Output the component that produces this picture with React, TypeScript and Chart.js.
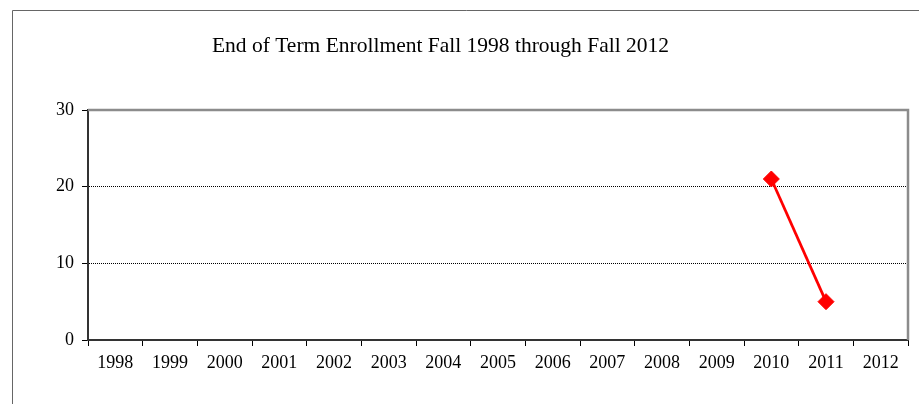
import React, { useEffect, useRef } from "react";
import { Chart, registerables } from "chart.js";

Chart.register(...registerables);

const categories: string[] = [
  "1998", "1999", "2000", "2001", "2002", "2003", "2004", "2005",
  "2006", "2007", "2008", "2009", "2010", "2011", "2012",
];
const enrollment: (number | null)[] = [
  null, null, null, null, null, null, null, null,
  null, null, null, null, 21, 5, null,
];
const yMin = 0;
const yMax = 30;
const yStep = 10;
const titleText = "End of Term Enrollment Fall 1998 through Fall 2012";

const FONT = "'Times New Roman', 'Liberation Serif', serif";
const W = 919;
const H = 404;

const framePlugin = {
  id: "frame",
  beforeDraw(chart: any) {
    const ctx = chart.ctx as CanvasRenderingContext2D;
    ctx.save();
    ctx.fillStyle = "#ffffff";
    ctx.fillRect(0, 0, chart.width, chart.height);
    ctx.strokeStyle = "#666666";
    ctx.lineWidth = 1;
    ctx.beginPath();
    ctx.moveTo(12.5, chart.height + 5);
    ctx.lineTo(12.5, 10.5);
    ctx.lineTo(chart.width + 5, 10.5);
    ctx.stroke();
    ctx.fillStyle = "#000000";
    ctx.font = `21.5px ${FONT}`;
    ctx.textAlign = "center";
    ctx.textBaseline = "alphabetic";
    ctx.fillText(titleText, 440.5, 52);
    ctx.restore();
  },
  beforeDatasetsDraw(chart: any) {
    const { ctx, chartArea } = chart;
    const { left, top, right, bottom } = chartArea;
    ctx.save();
    ctx.strokeStyle = "#8c8c8c";
    ctx.lineWidth = 2.5;
    ctx.beginPath();
    ctx.moveTo(left, top);
    ctx.lineTo(right, top);
    ctx.lineTo(right, bottom);
    ctx.stroke();
    ctx.restore();
  },
};

export default function App() {
  const canvasRef = useRef<HTMLCanvasElement | null>(null);

  useEffect(() => {
    if (!canvasRef.current) return;
    const chart = new Chart(canvasRef.current, {
      type: "line",
      data: {
        labels: categories,
        datasets: [
          {
            data: enrollment,
            borderColor: "#ff0000",
            backgroundColor: "#ff0000",
            borderWidth: 2.75,
            pointStyle: "rectRot",
            pointRadius: 8,
            pointBorderWidth: 1,
            pointBackgroundColor: "#ff0000",
            pointBorderColor: "#ff0000",
            spanGaps: false,
            fill: false,
            tension: 0,
          },
        ],
      },
      options: {
        animation: false,
        responsive: true,
        maintainAspectRatio: false,
        layout: { padding: { left: 0, right: 11, top: 110, bottom: 0 } },
        plugins: {
          legend: { display: false },
          title: { display: false },
          tooltip: { enabled: false },
        },
        scales: {
          x: {
            type: "category",
            offset: true,
            grid: {
              offset: true,
              drawOnChartArea: false,
              drawTicks: true,
              tickLength: 6,
              tickColor: "#000000",
              lineWidth: 1,
            },
            border: { display: true, color: "#333333", width: 2 },
            ticks: {
              color: "#000000",
              font: { family: FONT, size: 18 },
              padding: 6,
              maxRotation: 0,
              autoSkip: false,
            },
            afterFit(scale: any) {
              scale.height = 64;
            },
          },
          y: {
            min: yMin,
            max: yMax,
            grid: {
              color: (c: any) =>
                c.tick && (c.tick.value === yMin || c.tick.value === yMax)
                  ? "rgba(0,0,0,0)"
                  : "#000000",
              lineWidth: 1,
              tickLength: 6,
              tickColor: "#000000",
              tickBorderDash: [],
            },
            border: { display: true, color: "#333333", width: 2, dash: [1, 1] },
            ticks: {
              stepSize: yStep,
              color: "#000000",
              font: { family: FONT, size: 18 },
              padding: 8,
            },
            afterFit(scale: any) {
              scale.width = 88;
            },
          },
        },
      },
      plugins: [framePlugin],
    });
    return () => chart.destroy();
  }, []);

  return (
    <div
      style={{
        position: "fixed",
        left: 0,
        top: 0,
        width: W,
        height: H,
        background: "#ffffff",
      }}
    >
      <canvas ref={canvasRef} />
    </div>
  );
}
